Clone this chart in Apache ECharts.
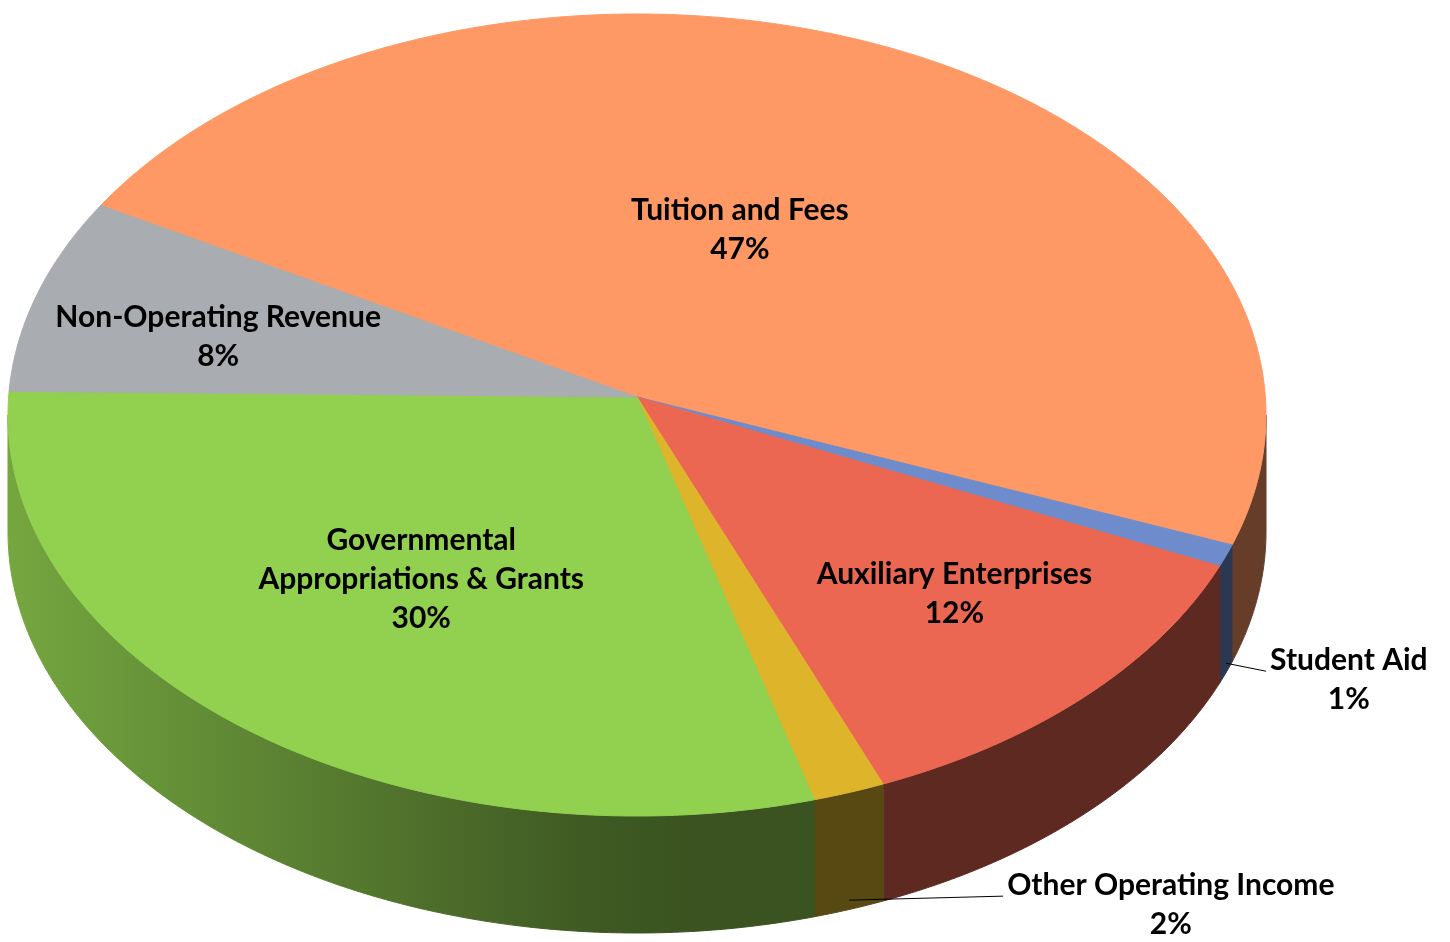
<!DOCTYPE html>
<html>
<head>
<meta charset="utf-8">
<script src="https://cdn.jsdelivr.net/npm/echarts@6/dist/echarts.min.js"></script>
<style>
html, body { margin: 0; background: #fff; }
#chart { width: 1450px; height: 942px; }
</style>
</head>
<body>
<div id="chart"></div>
<script>
// revenue sources, share in percent
const categories = [
    'Tuition and Fees',
    'Student Aid',
    'Auxiliary Enterprises',
    'Other Operating Income',
    'Governmental\nAppropriations & Grants',
    'Non-Operating Revenue'
];
const shares = [46.5, 0.9, 12.45, 1.85, 30.49, 7.81];
const colors = ['#FE9966', '#6E8BCB', '#EB6751', '#DDB42A', '#92D050', '#A9ACB0'];

// 3d pie layout
const cx = 637, cy = 415, rx = 629, ry = 401, depth = 117;
const apex = [637, 397];
const startAngle = 148.5;
const FONT = 'bold 30px Lato';

// inside labels: fraction of radii; outside labels: leader offsets
const labelLayout = [
    { fx: 0.384, fy: 0.510 },
    { outside: true, dx: 40, dy: 8 },
    { fx: 0.708, fy: 0.637 },
    { outside: true, dx: 154, dy: -4 },
    { fx: 0.551, fy: 0.525 },
    { fx: 0.698, fy: 0.651 }
];

const total = shares.reduce((a, b) => a + b, 0);
const startAngles = [], endAngles = [];
let acc = startAngle;
shares.forEach((v) => {
    startAngles.push(acc);
    acc -= v / total * 360;
    endAngles.push(acc);
});

const rad = (d) => d * Math.PI / 180;
const rim = (t) => [cx + rx * Math.cos(rad(t)), cy - ry * Math.sin(rad(t))];

const shade = (hex, f) => {
    const n = parseInt(hex.slice(1), 16);
    const r = Math.round(((n >> 16) & 255) * f);
    const g = Math.round(((n >> 8) & 255) * f);
    const b = Math.round((n & 255) * f);
    return `rgb(${r},${g},${b})`;
};
// light coming from the left front
const light = (t) => 0.4 + 0.4 * Math.max(0, Math.cos(rad(t + 180)));

const measure = document.createElement('canvas').getContext('2d');
measure.font = FONT;
const textWidth = (s) => Math.max(...s.split('\n').map((l) => measure.measureText(l).width));

const sideWall = (a, b, color) => {
    const n = Math.max(2, Math.ceil((b - a) / 0.5));
    const top = [], bottom = [];
    for (let j = 0; j <= n; j++) {
        const p = rim(a + (b - a) * j / n);
        top.push(p);
        bottom.unshift([p[0], p[1] + depth]);
    }
    const x0 = top[0][0], x1 = top[n][0];
    const stops = [];
    for (let j = 0; j <= 10; j++) {
        const t = a + (b - a) * j / 10;
        const off = x1 === x0 ? j / 10 : (rim(t)[0] - x0) / (x1 - x0);
        stops.push({ offset: Math.min(1, Math.max(0, off)), color: shade(color, light(t)) });
    }
    const fill = { type: 'linear', x: x0, y: 0, x2: x1, y2: 0, global: true, colorStops: stops };
    return {
        type: 'polygon',
        shape: { points: top.concat(bottom) },
        style: { fill: fill, stroke: fill, lineWidth: 1 }
    };
};

const renderItem = (params, api) => {
    const i = params.dataIndex;
    const s = startAngles[i], e = endAngles[i];
    const children = [];

    // visible front wall, angles between -180 and 0
    [-360, 0, 360].forEach((k) => {
        const a = Math.max(e + k, -180), b = Math.min(s + k, 0);
        if (b - a > 0.01) children.push(sideWall(a, b, colors[i]));
    });

    // top face
    const pts = [apex];
    const n = Math.max(2, Math.ceil((s - e) / 0.5));
    for (let j = 0; j <= n; j++) pts.push(rim(s - (s - e) * j / n));
    children.push({
        type: 'polygon',
        shape: { points: pts },
        style: { fill: colors[i], stroke: colors[i], lineWidth: 1 }
    });

    // label
    const pct = Math.round(api.value(1) / total * 100) + '%';
    const text = categories[i] + '\n' + pct;
    const mid = (s + e) / 2;
    const lay = labelLayout[i];
    if (lay.outside) {
        const p = rim(mid);
        const start = [p[0], p[1] + depth * 0.92];
        const end = [start[0] + lay.dx, start[1] + lay.dy];
        children.push({
            type: 'polyline',
            shape: { points: [start, end] },
            style: { stroke: '#000', lineWidth: 1, fill: null },
            z2: 10
        });
        children.push({
            type: 'text',
            z2: 10,
            style: {
                text: text, x: end[0] + 4 + textWidth(text) / 2, y: end[1] - 30,
                font: FONT, fill: '#000', align: 'center', verticalAlign: 'top', lineHeight: 39
            }
        });
    } else {
        children.push({
            type: 'text',
            z2: 10,
            style: {
                text: text,
                x: cx + lay.fx * rx * Math.cos(rad(mid)),
                y: cy - lay.fy * ry * Math.sin(rad(mid)),
                font: FONT, fill: '#000', align: 'center', verticalAlign: 'middle', lineHeight: 39
            }
        });
    }
    return { type: 'group', children: children };
};

const chart = echarts.init(document.getElementById('chart'));
chart.setOption({
    backgroundColor: '#fff',
    animation: false,
    series: [{
        type: 'custom',
        coordinateSystem: 'none',
        renderItem: renderItem,
        data: shares.map((v, i) => [i, v])
    }]
});
</script>
</body>
</html>
